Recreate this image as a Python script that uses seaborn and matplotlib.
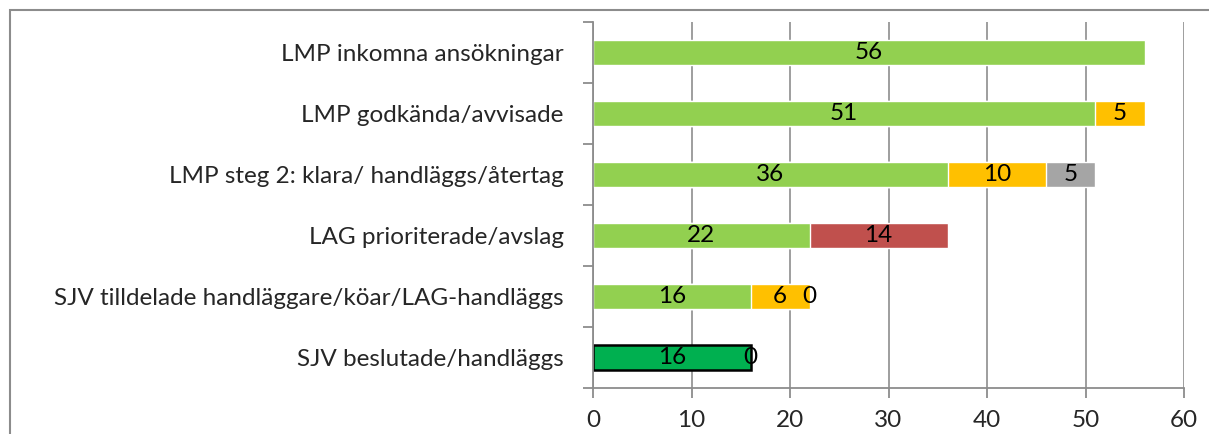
import numpy as np
import pandas as pd
import matplotlib
matplotlib.use("Agg")
import matplotlib.pyplot as plt
from matplotlib.patches import Rectangle
from matplotlib.ticker import FixedLocator
import seaborn as sns

categories = [
    "LMP inkomna ansökningar",
    "LMP godkända/avvisade",
    "LMP steg 2: klara/ handläggs/återtag",
    "LAG prioriterade/avslag",
    "SJV tilldelade handläggare/köar/LAG-handläggs",
    "SJV beslutade/handläggs",
]
# segment values per row (NaN = segment not present)
seg_green = [56, 51, 36, 22, 16, np.nan]
seg_darkgreen = [np.nan, np.nan, np.nan, np.nan, np.nan, 16]
seg_orange = [np.nan, 5, 10, np.nan, 6, np.nan]
seg_red = [np.nan, np.nan, np.nan, 14, np.nan, np.nan]
seg_gray = [np.nan, np.nan, 5, np.nan, 0, np.nan]
seg_tail = [np.nan, np.nan, np.nan, np.nan, np.nan, 0]

C_GREEN = "#92D050"
C_DKGREEN = "#00B050"
C_ORANGE = "#FFC000"
C_RED = "#C0504D"
C_GRAY = "#A5A5A5"

sns.set_theme(style="white")
plt.rcParams["font.family"] = ["Lato", "DejaVu Sans"]

df = pd.DataFrame({
    "cat": categories,
    "green": seg_green, "darkgreen": seg_darkgreen,
    "orange": seg_orange, "red": seg_red, "gray": seg_gray, "tail": seg_tail,
})
first = df["green"].fillna(0) + df["darkgreen"].fillna(0)
second = df["orange"].fillna(0) + df["red"].fillna(0)
third = df["gray"].fillna(0) + df["tail"].fillna(0)
df["cum1"] = first
df["cum2"] = first + second
df["cum3"] = first + second + third

fig = plt.figure(figsize=(12.09, 4.34), dpi=100)
ax = fig.add_axes([593 / 1209, 1 - 388 / 434, (1184 - 593) / 1209, (388 - 22) / 434])

bw = 0.4
# gray layer (cumulative end)
d = df.copy(); d["v"] = np.where(df["gray"].notna(), df["cum3"], np.nan)
sns.barplot(data=d, y="cat", x="v", orient="h", color=C_GRAY, width=bw, ax=ax, saturation=1)
# orange layer
d = df.copy(); d["v"] = np.where(df["orange"].notna(), df["cum2"], np.nan)
sns.barplot(data=d, y="cat", x="v", orient="h", color=C_ORANGE, width=bw, ax=ax, saturation=1)
# red layer
d = df.copy(); d["v"] = np.where(df["red"].notna(), df["cum2"], np.nan)
sns.barplot(data=d, y="cat", x="v", orient="h", color=C_RED, width=bw, ax=ax, saturation=1)
# green layer
d = df.copy(); d["v"] = df["green"]
sns.barplot(data=d, y="cat", x="v", orient="h", color=C_GREEN, width=bw, ax=ax, saturation=1)
# dark green layer with black edge
d = df.copy(); d["v"] = df["darkgreen"]
sns.barplot(data=d, y="cat", x="v", orient="h", color=C_DKGREEN, width=bw, ax=ax,
            saturation=1, edgecolor="black", linewidth=1.8)

# labels
lab_fs = 17.5
for i in range(len(df)):
    starts = [0, df["cum1"][i], df["cum2"][i]]
    vals = [
        seg_green[i] if not np.isnan(seg_green[i]) else seg_darkgreen[i],
        seg_orange[i] if not np.isnan(seg_orange[i]) else seg_red[i],
        seg_gray[i] if not np.isnan(seg_gray[i]) else seg_tail[i],
    ]
    for s, v in zip(starts, vals):
        if v is None or np.isnan(v):
            continue
        ax.text(s + v / 2, i, f"{int(v)}", ha="center", va="center",
                fontsize=lab_fs, color="black")

ax.set_xlim(0, 60)
ax.set_ylim(len(categories) - 0.5, -0.5)
ax.set_xticks(np.arange(0, 61, 10))
ax.set_xlabel("")
ax.set_ylabel("")
ax.xaxis.grid(True, color="#969696", linewidth=1.3)
ax.set_axisbelow(True)
for sp in ["top", "right"]:
    ax.spines[sp].set_visible(False)
for sp in ["left", "bottom"]:
    ax.spines[sp].set_color("#8C8C8C")
    ax.spines[sp].set_linewidth(1.3)
ax.tick_params(axis="x", which="major", direction="out", length=7, width=1.3,
               color="#8C8C8C", labelsize=17.5, pad=9, bottom=True)
ax.tick_params(axis="y", which="major", length=0, labelsize=17.5, pad=21, left=False)
ax.yaxis.set_minor_locator(FixedLocator(np.arange(-0.5, len(categories), 1.0)))
ax.tick_params(axis="y", which="minor", direction="out", length=7, width=1.3,
               color="#8C8C8C", left=True)

fig.patches.append(Rectangle((10 / 1209, -0.05), 1.1, 1 - 10 / 434 + 0.05,
                             transform=fig.transFigure, fill=False,
                             edgecolor="#8C8C8C", linewidth=1.5))

fig.savefig("out.png", dpi=100)
